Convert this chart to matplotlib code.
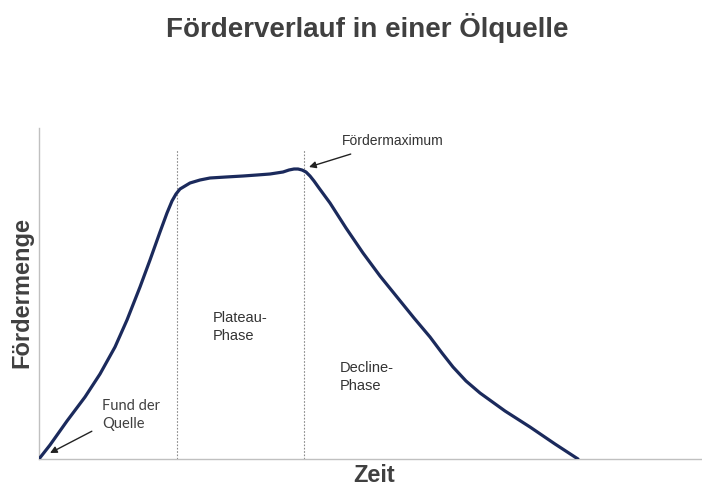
import matplotlib
matplotlib.use("Agg")
import matplotlib.pyplot as plt

# Curve (time, production), arbitrary units
zeit = [0, 11, 28, 46, 61, 76, 88, 101, 111, 121, 128, 133, 137, 141, 146, 151,
        161, 171, 187, 204, 218, 231, 244, 250, 255, 259, 263, 267, 271, 275,
        280, 291, 307, 324, 341, 358, 375, 391, 403, 414, 427, 441, 466, 491,
        516, 539]
menge = [0, 14, 38, 62, 85, 112, 139, 172, 199, 227, 246, 258, 265, 270, 273, 276,
         279, 281, 282, 283, 284, 285, 287, 289, 290, 290, 289, 287, 283, 278,
         271, 256, 231, 206, 183, 162, 141, 122, 106, 92, 78, 66, 48, 32,
         15, 0]
phase_grenzen = [138, 265]
phase_hoehe = 310

title = "Förderverlauf in einer Ölquelle"
xlabel = "Zeit"
ylabel = "Fördermenge"

plt.rcParams['font.family'] = ['Liberation Sans', 'DejaVu Sans']

fig = plt.figure(figsize=(7.02, 4.86), dpi=100)
ax = fig.add_axes([39/702, 27/486, 1 - 39/702, 331/486])
ax.set_xlim(0, 663)
ax.set_ylim(0, 331)

ax.plot(zeit, menge, color='#1b2a5c', lw=2.3, solid_capstyle='round',
        solid_joinstyle='round', zorder=3)

for xg in phase_grenzen:
    ax.plot([xg, xg], [0, phase_hoehe], color='#8a8a8a', lw=0.8,
            linestyle=(0, (1.5, 1.5)), zorder=2)

for s in ['top', 'right']:
    ax.spines[s].set_visible(False)
for s in ['left', 'bottom']:
    ax.spines[s].set_color('#c0c0c0')
    ax.spines[s].set_linewidth(1.0)
ax.set_xticks([])
ax.set_yticks([])

ax.annotate("Fördermaximum", xy=(270, 292), xytext=(303, 318),
            fontsize=10, color='#333333', va='center', ha='left',
            arrowprops=dict(arrowstyle='-|>', color='#222222', lw=1.0,
                            mutation_scale=10, shrinkA=8, shrinkB=0))
ax.annotate("Fund der\nQuelle", xy=(11, 6), xytext=(63, 44),
            fontsize=10.5, color='#404040', va='center', ha='left',
            family=['Lato', 'DejaVu Sans'], linespacing=1.3,
            arrowprops=dict(arrowstyle='-|>', color='#222222', lw=1.0,
                            mutation_scale=10, shrinkA=6, shrinkB=0,
                            relpos=(0, 0.15)))
ax.text(174, 132, "Plateau-\nPhase", fontsize=10.5, color='#333333',
        va='center', ha='left', linespacing=1.3)
ax.text(301, 82, "Decline-\nPhase", fontsize=10.5, color='#333333',
        va='center', ha='left', linespacing=1.3)

fig.text(367/702, 1 - 28/486, title, fontsize=20, fontweight='bold',
         color='#404040', ha='center', va='center')
fig.text(374/702, 1 - 475/486, xlabel, fontsize=17, fontweight='bold',
         color='#404040', ha='center', va='center')
fig.text(22/702, 1 - 292/486, ylabel, fontsize=17, fontweight='bold',
         color='#404040', ha='center', va='center', rotation=90)

fig.savefig("out.png", dpi=100)
